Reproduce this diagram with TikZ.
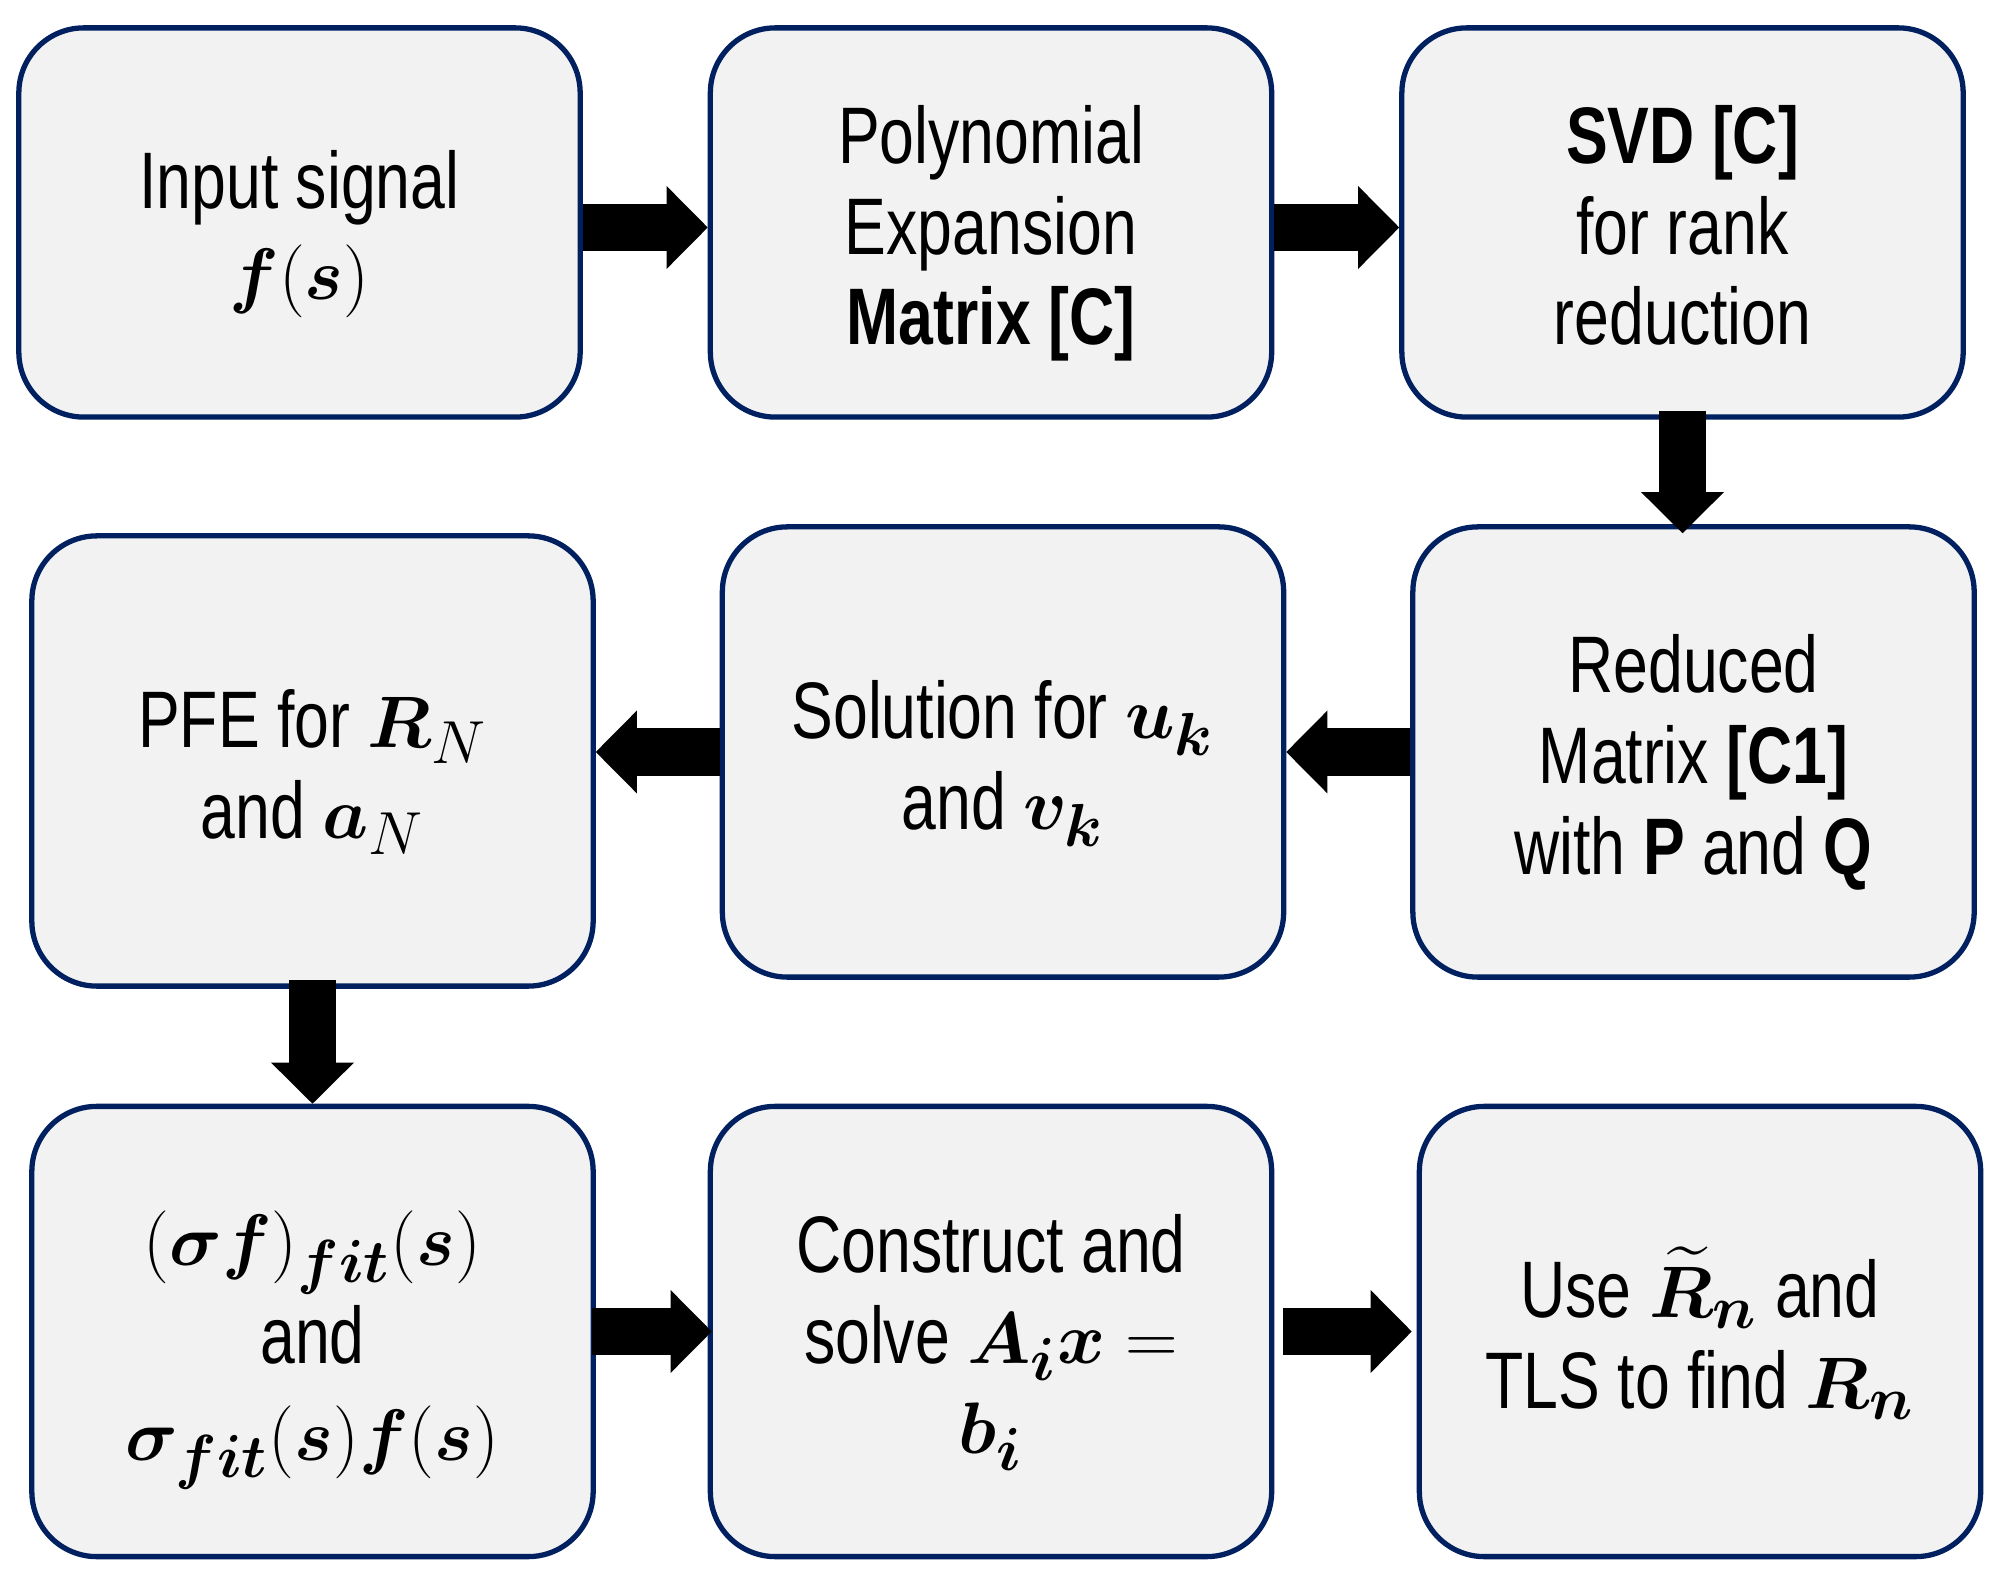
\documentclass[tikz,border=0pt]{standalone}
\usepackage{amsmath}
\usepackage{bm}
\usepackage{fontspec}
\setmainfont[FakeStretch=0.78]{Liberation Sans}
\usetikzlibrary{arrows.meta}
\definecolor{boxborder}{HTML}{002060}
\definecolor{boxfill}{HTML}{F2F2F2}
\newcommand{\topst}{\rule{0pt}{27pt}}
\newcommand{\botst}{\rule[-9pt]{0pt}{9pt}}
\tikzset{
  stepbox/.style={draw=boxborder, fill=boxfill, line width=1.5pt, rounded corners=0.65cm,
    minimum width=5.61cm, align=center, inner sep=0pt,
    font=\fontsize{22.8}{25.8}\selectfont},
  rowone/.style={minimum height=3.89cm},
  rowtwo/.style={minimum height=4.5cm},
  flow/.style={draw=black, line width=13.4pt,
    -{Triangle[width=23.6pt,length=11.7pt,line width=0pt]}}
}
\begin{document}
\begin{tikzpicture}[x=0.01cm,y=-0.01cm]
\fill[white] (0,0) rectangle (2000,1577);
\useasboundingbox (0,0) rectangle (2000,1577);

\node[stepbox,rowone] (b1) at (299.5,222.5) {\topst Input signal\\$\bm{f}(\bm{s})$\botst};
\node[stepbox,rowone] (b2) at (991,222.5) {\topst Polynomial\\Expansion\\\textbf{Matrix [C]}\botst};
\node[stepbox,rowone] (b3) at (1682.5,222.5) {\topst\textbf{SVD [C]}\\for rank\\reduction\botst};

\node[stepbox,rowtwo] (b4) at (312.5,761) {\topst PFE for $\bm{R}_{N}$\\and $\bm{a}_{N}$\botst};
\node[stepbox,rowtwo] (b5) at (1003,752) {\topst Solution for $\bm{u}_{\bm{k}}$\\and $\bm{v}_{\bm{k}}$\botst};
\node[stepbox,rowtwo] (b6) at (1693.5,752) {\topst Reduced\\Matrix \textbf{[C1]}\\with \textbf{P} and \textbf{Q}\botst};

\node[stepbox,rowtwo] (b7) at (312.5,1331.5) {\topst$(\bm{\sigma}\bm{f})_{\bm{fit}}(\bm{s})$\\[2pt]and\\[2pt]$\bm{\sigma}_{\bm{fit}}(\bm{s})\bm{f}(\bm{s})$\botst};
\node[stepbox,rowtwo] (b8) at (991,1331.5) {\topst Construct and\\solve $\bm{A}_{\bm{i}}\bm{x} =$\\$\bm{b}_{\bm{i}}$\botst};
\node[stepbox,rowtwo] (b9) at (1700,1331.5) {\topst Use $\widetilde{\bm{R}}_{\bm{n}}$ and\\TLS to find $\bm{R}_{\bm{n}}$\botst};

\coordinate (t36) at (b3.south |- b6.north);
\coordinate (t47) at (b4.south |- b7.north);
\coordinate (t54) at (b5.west -| b4.east);

\draw[flow] ([yshift=-0.05cm]b1.east) -- ([yshift=-0.05cm]b2.west);
\draw[flow] ([yshift=-0.05cm]b2.east) -- ([yshift=-0.05cm]b3.west);
\draw[flow] ([yshift=0.09cm]b3.south) -- ([yshift=-0.09cm]t36);
\draw[flow] (b6.west) -- (b5.east);
\draw[flow] (b5.west) -- (t54);
\draw[flow] ([yshift=0.09cm]b4.south) -- (t47);
\draw[flow] ([xshift=-0.04cm]b7.east) -- ([xshift=0.04cm]b8.west);
\draw[flow] ([xshift=0.09cm]b8.east) -- ([xshift=-0.05cm]b9.west);
\end{tikzpicture}
\end{document}
